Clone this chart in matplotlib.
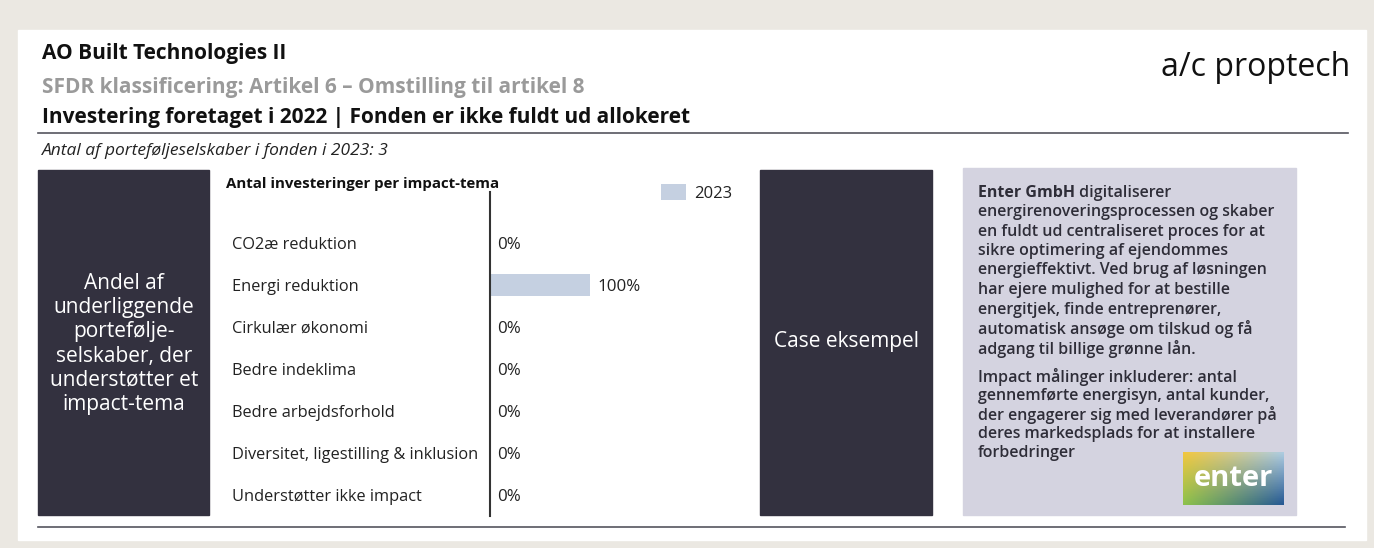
import numpy as np
from matplotlib import pyplot as plt
from matplotlib.patches import Rectangle

plt.rcParams['font.family'] = ['Open Sans', 'DejaVu Sans']

# data
themes = ['CO2æ reduktion', 'Energi reduktion', 'Cirkulær økonomi', 'Bedre indeklima',
          'Bedre arbejdsforhold', 'Diversitet, ligestilling & inklusion', 'Understøtter ikke impact']
share_2023 = [0, 100, 0, 0, 0, 0, 0]
series_name = '2023'

title = 'AO Built Technologies II'
subtitle = 'SFDR klassificering: Artikel 6 – Omstilling til artikel 8'
title3 = 'Investering foretaget i 2022 | Fonden er ikke fuldt ud allokeret'
note = 'Antal af porteføljeselskaber i fonden i 2023: 3'
chart_title = 'Antal investeringer per impact-tema'
left_box = 'Andel af\nunderliggende\nportefølje-\nselskaber, der\nunderstøtter et\nimpact-tema'
case_box = 'Case eksempel'
case_head = 'Enter GmbH'
case_lines1 = [' digitaliserer',
               'energirenoveringsprocessen og skaber',
               'en fuldt ud centraliseret proces for at',
               'sikre optimering af ejendommes',
               'energieffektivt. Ved brug af løsningen',
               'har ejere mulighed for at bestille',
               'energitjek, finde entreprenører,',
               'automatisk ansøge om tilskud og få',
               'adgang til billige grønne lån.']
case_lines2 = ['Impact målinger inkluderer: antal',
               'gennemførte energisyn, antal kunder,',
               'der engagerer sig med leverandører på',
               'deres markedsplads for at installere',
               'forbedringer']

W, H = 1374, 548
fig = plt.figure(figsize=(W / 100, H / 100), dpi=100, facecolor='#ebe8e2')

# layout layer in pixel coordinates
lay = fig.add_axes([0, 0, 1, 1])
lay.set_xlim(0, W)
lay.set_ylim(H, 0)
lay.axis('off')

lay.add_patch(Rectangle((18, 30), 1348, 510, color='white', zorder=0))
lay.plot([38, 1348], [133, 133], color='#55555f', lw=1.2)
lay.plot([38, 1345], [527, 527], color='#55555f', lw=1.2)

lay.text(42, 53, title, fontsize=15, fontweight='bold', color='#111111', va='center')
lay.text(42, 87, subtitle, fontsize=15, fontweight='bold', color='#9a9a9a', va='center')
lay.text(42, 118, title3, fontsize=15, fontweight='bold', color='#111111', va='center')
lay.text(42, 151, note, fontsize=12.5, fontstyle='italic', color='#222222', va='center')
lay.text(1350, 68, 'a/c proptech', fontsize=23, color='#111111', ha='right', va='center')

dark = '#33313f'
lay.add_patch(Rectangle((38, 170), 171, 345, color=dark))
lay.text(124, 344, left_box, fontsize=15, color='white', ha='center', va='center',
         linespacing=1.2)
lay.add_patch(Rectangle((760, 170), 172, 345, color=dark))
lay.text(846, 342, case_box, fontsize=15, color='white', ha='center', va='center')

lay.add_patch(Rectangle((963, 168), 333, 347, color='#d4d3e0'))
txtc = '#2e2d38'
fs = 11.5
head = lay.text(978, 193, case_head, fontsize=fs, fontweight='bold', color=txtc, va='center')
lay.annotate(case_lines1[0], xy=(1, 0.5), xycoords=head, fontsize=fs, fontweight='semibold',
             color=txtc, va='center')
for i, line in enumerate(case_lines1[1:]):
    lay.text(978, 212 + 19.5 * i, line, fontsize=fs, fontweight='semibold', color=txtc, va='center')
for i, line in enumerate(case_lines2):
    lay.text(978, 377 + 19 * i, line, fontsize=fs, fontweight='semibold', color=txtc, va='center')

# enter logo
gx, gy = np.meshgrid(np.linspace(0, 1, 60), np.linspace(0, 1, 30))
tl = np.array([0.95, 0.78, 0.25])
tr = np.array([0.68, 0.80, 0.88])
bl = np.array([0.55, 0.76, 0.30])
br = np.array([0.15, 0.35, 0.58])
grad = ((1 - gx)[..., None] * (1 - gy)[..., None] * tl + gx[..., None] * (1 - gy)[..., None] * tr
        + (1 - gx)[..., None] * gy[..., None] * bl + gx[..., None] * gy[..., None] * br)
lay.imshow(grad, extent=(1183, 1284, 505, 452), aspect='auto', zorder=2)
lay.text(1233, 478, 'enter', fontsize=21, fontweight='bold', color='white', ha='center',
         va='center', zorder=3)
lay.set_xlim(0, W)
lay.set_ylim(H, 0)

lay.text(226, 184, chart_title, fontsize=10.8, fontweight='bold', color='#111111', va='center')

# bar chart
ax = fig.add_axes([490 / W, 1 - 516 / H, 270 / W, 324 / H])
ax.patch.set_alpha(0)
pos = np.arange(len(themes))
bars = ax.barh(pos, share_2023, height=0.53, color='#c5d0e1', label=series_name)
ax.set_xlim(0, 270)
ax.set_ylim(6.5, -51 / 42)
ax.set_yticks(pos)
ax.set_yticklabels(themes, ha='left', fontsize=11.8, color='#222222')
ax.tick_params(axis='y', length=0, pad=(490 - 232) * 0.72)
ax.set_xticks([])
for s in ['top', 'right', 'bottom']:
    ax.spines[s].set_visible(False)
ax.spines['left'].set_color('#333333')
ax.spines['left'].set_linewidth(1.5)
for p, v in zip(pos, share_2023):
    ax.text(v + 7, p, f'{v}%', fontsize=12.2, color='#222222', va='center_baseline')

fig.legend(handles=[bars], labels=[series_name], loc='upper left',
           bbox_to_anchor=(646 / W, 1 - 169 / H), frameon=False, fontsize=12,
           handlelength=1.5, handleheight=1.1, handletextpad=0.5, labelcolor='#222222')

fig.savefig('out.png', dpi=100, facecolor=fig.get_facecolor())
